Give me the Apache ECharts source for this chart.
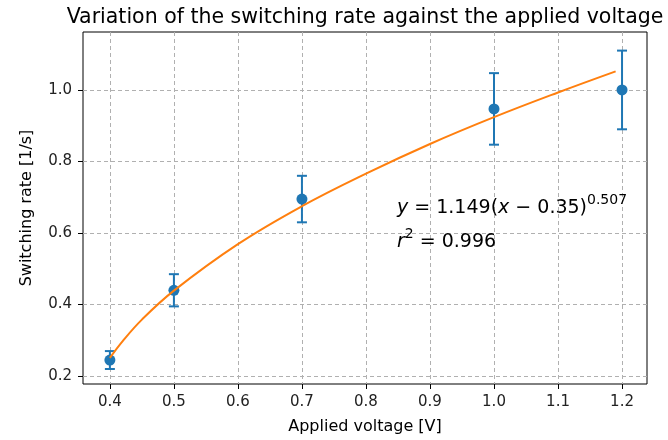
<!DOCTYPE html>
<html>
<head>
<meta charset="utf-8">
<script src="https://cdn.jsdelivr.net/npm/echarts@6/dist/echarts.min.js"></script>
<style>
	html, body { margin: 0; padding: 0; background: #fff; }
	#chart { width: 668px; height: 440px; }
</style>
</head>
<body>
<div id="chart"></div>
<script>
// measured points
var voltage = [0.4, 0.5, 0.7, 1.0, 1.2];
var rate = [0.245, 0.44, 0.695, 0.947, 1.0];
var rateErr = [0.025, 0.045, 0.065, 0.1, 0.11];

// fitted curve
var fitX = [0.4, 0.42, 0.45, 0.5, 0.6, 0.7, 0.8, 0.9, 1.0, 1.1, 1.19];
var fitY = [0.251, 0.298, 0.358, 0.439, 0.569, 0.675, 0.766, 0.849, 0.924, 0.993, 1.052];

// tick labels
var xTicks = [0.4, 0.5, 0.6, 0.7, 0.8, 0.9, 1.0, 1.1, 1.2];
var yTicks = [0.2, 0.4, 0.6, 0.8, 1.0];

var blue = '#1f77b4';
var orange = '#ff7f0e';
var font = 'DejaVu Sans';

var chart = echarts.init(document.getElementById('chart'));

var pointData = [];
var errData = [];
for (var i = 0; i < voltage.length; i++) {
	pointData.push([voltage[i], rate[i]]);
	errData.push([voltage[i], rate[i] - rateErr[i], rate[i] + rateErr[i]]);
}
var fitData = [];
for (var j = 0; j < fitX.length; j++) {
	fitData.push([fitX[j], fitY[j]]);
}

function renderErr(params, api) {
	var x = api.value(0);
	var lo = api.coord([x, api.value(1)]);
	var hi = api.coord([x, api.value(2)]);
	var cap = 5;
	var st = { stroke: blue, lineWidth: 2 };
	return {
		type: 'group',
		children: [
			{ type: 'line', shape: { x1: lo[0], y1: lo[1], x2: hi[0], y2: hi[1] }, style: st },
			{ type: 'line', shape: { x1: lo[0] - cap, y1: lo[1], x2: lo[0] + cap, y2: lo[1] }, style: st },
			{ type: 'line', shape: { x1: hi[0] - cap, y1: hi[1], x2: hi[0] + cap, y2: hi[1] }, style: st }
		]
	};
}

var gridLine = { show: true, lineStyle: { color: '#b0b0b0', type: [4, 3], width: 1 } };

// 公式文字样式
var eqRich = {
	m: { fontFamily: font, fontSize: 19, lineHeight: 30, verticalAlign: 'middle', fill: '#000' },
	i: { fontFamily: font, fontSize: 19, lineHeight: 30, verticalAlign: 'middle', fontStyle: 'italic', fill: '#000' },
	s: { fontFamily: font, fontSize: 14, lineHeight: 14, verticalAlign: 'top', fill: '#000' }
};

var option = {
	animation: false,
	title: {
		text: 'Variation of the switching rate against the applied voltage',
		left: 360,
		textAlign: 'center',
		top: 2,
		textStyle: { fontFamily: font, fontSize: 20.5, fontWeight: 'normal', color: '#000' }
	},
	grid: {
		left: 83, right: 21, top: 32, bottom: 55,
		show: true, borderColor: '#000', borderWidth: 1, backgroundColor: '#fff'
	},
	xAxis: {
		type: 'value',
		min: 0.358,
		max: 1.239,
		name: 'Applied voltage [V]',
		nameLocation: 'middle',
		nameGap: 35,
		nameTextStyle: { fontFamily: font, fontSize: 16, color: '#000' },
		axisLine: { show: false },
		axisTick: { show: true, length: 5, inside: false, lineStyle: { color: '#000' }, customValues: xTicks },
		axisLabel: {
			customValues: xTicks,
			fontFamily: font, fontSize: 15, color: '#222', margin: 11,
			formatter: function (v) { return v.toFixed(1); }
		},
		splitLine: gridLine
	},
	yAxis: {
		type: 'value',
		min: 0.178,
		max: 1.162,
		name: 'Switching rate [1/s]',
		nameLocation: 'middle',
		nameGap: 48,
		nameTextStyle: { fontFamily: font, fontSize: 16, color: '#000' },
		axisLine: { show: false },
		axisTick: { show: true, length: 5, inside: false, lineStyle: { color: '#000' }, customValues: yTicks },
		axisLabel: {
			customValues: yTicks,
			fontFamily: font, fontSize: 15, color: '#222', margin: 11,
			formatter: function (v) { return v.toFixed(1); }
		},
		splitLine: gridLine
	},
	graphic: [{
		type: 'text',
		left: 397,
		top: 193,
		style: { text: '{i|y}{m| = 1.149(}{i|x}{m| − 0.35)}{s|0.507}', rich: eqRich },
		z: 100
	}, {
		type: 'text',
		left: 397,
		top: 227,
		style: { text: '{i|r}{s|2}{m| = 0.996}', rich: eqRich },
		z: 100
	}],
	series: [
		{
			type: 'custom',
			renderItem: renderErr,
			data: errData,
			z: 2
		},
		{
			type: 'scatter',
			data: pointData,
			symbolSize: 11,
			itemStyle: { color: blue, opacity: 1 },
			z: 3
		},
		{
			type: 'line',
			data: fitData,
			smooth: 0.4,
			showSymbol: false,
			lineStyle: { color: orange, width: 2 },
			z: 4
		}
	]
};
chart.setOption(option);
</script>
</body>
</html>
